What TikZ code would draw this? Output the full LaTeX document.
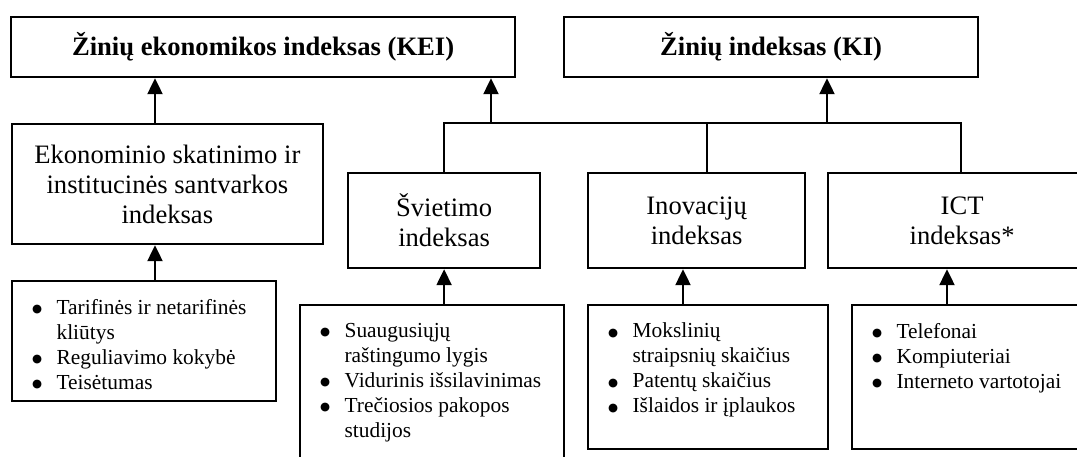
\documentclass[tikz,border=0pt]{standalone}
\usepackage{fontspec}
\setmainfont{Liberation Serif}
\newfontfamily\dotfont{DejaVu Sans}
\usetikzlibrary{arrows.meta}
\newcommand\bigf{\fontsize{26.6}{30}\selectfont}
\newcommand\smf{\fontsize{21.4}{25}\selectfont}
\newcommand\bul{\makebox[50pt]{\raisebox{1.8pt}{\dotfont\fontsize{11.5}{25}\selectfont ●}}\hspace*{-5.5pt}}
\newcommand\nob{\hspace*{44.5pt}}
\newcommand\listpanel[3]{\begin{minipage}[t][#2pt][t]{#1pt}\smf\raggedright\setlength\parindent{0pt}\vspace*{18pt}#3\end{minipage}}
\tikzset{
  box/.style={draw, line width=2.2pt, inner sep=0pt, anchor=north west, align=center, font=\bigf},
  listbox/.style={draw, line width=2.2pt, inner sep=0pt, anchor=north west},
  line/.style={line width=2.2pt},
  arr/.style={line width=2.2pt, -{Triangle[length=16pt,width=15pt]}}
}
\begin{document}
\begin{tikzpicture}[x=1pt,y=-1pt]
\useasboundingbox (0,0) rectangle (1077,457);
% top boxes
\node[box, minimum width=504pt, minimum height=60pt] (kei) at (10,16) {\textbf{Žinių ekonomikos indeksas (KEI)}};
\node[box, minimum width=414pt, minimum height=60pt] (ki) at (563,16) {\textbf{Žinių indeksas (KI)}};
% middle boxes
\node[box, minimum width=311.5pt, minimum height=120pt] (ekon) at (10.5,123) {Ekonominio skatinimo ir\\institucinės santvarkos\\indeksas};
\node[box, minimum width=192pt, minimum height=95pt] (svb) at (347,172) {Švietimo\\indeksas};
\node[box, minimum width=217pt, minimum height=95pt] (inb) at (587,172) {Inovacijų\\indeksas};
\node[box, minimum width=268pt, minimum height=95pt] (ictb) at (827,172) {ICT\\indeksas*};
% list boxes
\node[listbox] (elist) at (11,280) {\listpanel{264}{120}{%
\bul Tarifinės ir netarifinės\par
\nob kliūtys\par
\bul Reguliavimo kokybė\par
\bul Teisėtumas}};
\node[listbox] (slist) at (299,304) {\listpanel{264}{175}{%
\bul Suaugusiųjų\par
\nob raštingumo lygis\par
\bul Vidurinis išsilavinimas\par
\bul Trečiosios pakopos\par
\nob studijos}};
\node[listbox] (ilist) at (587,304) {\listpanel{240}{144}{%
\bul Mokslinių\par
\nob straipsnių skaičius\par
\bul Patentų skaičius\par
\bul Išlaidos ir įplaukos}};
\node[listbox] (iclist) at (851,304) {\listpanel{240}{144}{%
\bul Telefonai\par
\bul Kompiuteriai\par
\bul Interneto vartotojai}};
% connector x positions
\coordinate (xa) at (155,0);
\coordinate (xk) at (491,0);
\coordinate (xi) at (707,0);
\coordinate (xki) at (827,0);
\coordinate (xc) at (961,0);
\coordinate (xil) at (683,0);
\coordinate (xcl) at (947,0);
% connectors
\draw[arr] (elist.north -| xa) -- (ekon.south -| xa);
\draw[arr] (ekon.north -| xa) -- (kei.south -| xa);
\draw[line] (svb.north) -- (svb.north |- ekon.north) -- (xc |- ekon.north) -- (ictb.north -| xc);
\draw[line] (xi |- ekon.north) -- (inb.north -| xi);
\draw[arr] (xk |- ekon.north) -- (kei.south -| xk);
\draw[arr] (xki |- ekon.north) -- (ki.south -| xki);
\draw[arr] (slist.north -| svb.south) -- (svb.south);
\draw[arr] (ilist.north -| xil) -- (inb.south -| xil);
\draw[arr] (iclist.north -| xcl) -- (ictb.south -| xcl);
\end{tikzpicture}
\end{document}
